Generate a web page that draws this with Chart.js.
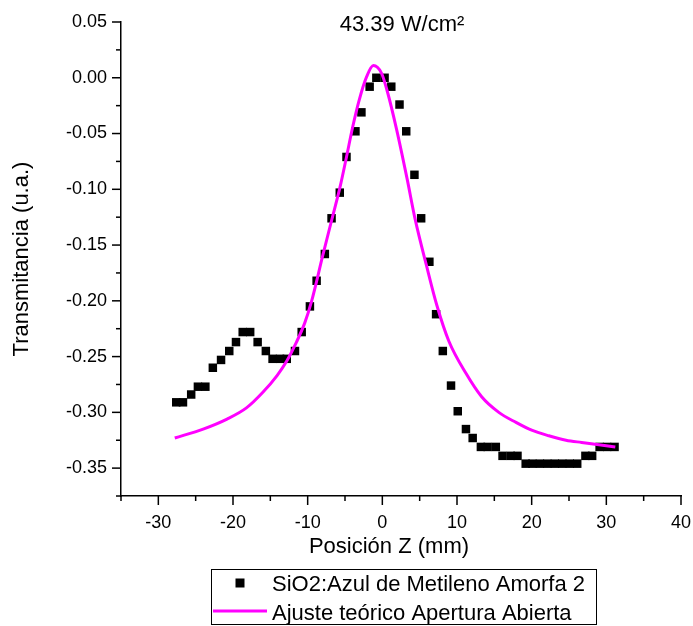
<!DOCTYPE html>
<html>
<head>
<meta charset="utf-8">
<script src="https://cdn.jsdelivr.net/npm/chart.js@4.4.1/dist/chart.umd.min.js"></script>
<style>
html,body{margin:0;padding:0;background:#fff;}
canvas{display:block;}
</style>
</head>
<body>
<canvas id="c" width="693" height="626"></canvas>
<script>
// ---- Data ----
const chartTitle = '43.39 W/cm\u00B2';
const xAxisTitle = 'Posición Z (mm)';
const yAxisTitle = 'Transmitancia (u.a.)';
const seriesNames = ['SiO2:Azul de Metileno Amorfa 2', 'Ajuste teórico Apertura Abierta'];

const zData = [-27.6, -26.7, -25.6, -24.7, -23.7, -22.7, -21.6, -20.5, -19.6, -18.7,
               -17.7, -16.7, -15.6, -14.7, -13.7, -12.8, -11.7, -10.8, -9.7, -8.8,
               -7.7, -6.8, -5.7, -4.8, -3.6, -2.8, -1.7, -0.8, 0.3, 1.2,
               2.3, 3.2, 4.3, 5.2, 6.3, 7.2, 8.1, 9.2, 10.1, 11.2,
               12.1, 13.2, 14.1, 15.2, 16.1, 17.2, 18.1, 19.2, 20.1, 21.1,
               22.1, 23.1, 24.1, 25.1, 26.1, 27.2, 28.1, 29.1, 30.1, 31.1];
const tData = [-0.291, -0.291, -0.284, -0.277, -0.277, -0.260, -0.253, -0.245, -0.237, -0.228,
               -0.228, -0.237, -0.245, -0.252, -0.252, -0.252, -0.245, -0.228, -0.205, -0.182,
               -0.158, -0.126, -0.103, -0.071, -0.048, -0.031, -0.008, 0.000, 0.000, -0.008,
               -0.024, -0.048, -0.087, -0.126, -0.165, -0.212, -0.245, -0.276, -0.299, -0.315,
               -0.323, -0.331, -0.331, -0.331, -0.339, -0.339, -0.339, -0.346, -0.346, -0.346,
               -0.346, -0.346, -0.346, -0.346, -0.346, -0.339, -0.339, -0.331, -0.331, -0.331];

const zFit = [-27.8, -24.0, -20.8, -18.2, -16.0, -14.1, -12.8, -11.5, -10.4, -9.5,
              -8.0, -6.8, -5.7, -4.8, -4.0, -3.1, -2.1, -1.2, -0.1, 0.7,
              1.9, 3.3, 4.4, 5.9, 7.3, 8.9, 11.2, 13.3, 15.6, 17.9,
              20.0, 22.3, 24.6, 26.7, 29.0, 31.2];
const tFit = [-0.323, -0.315, -0.306, -0.296, -0.282, -0.267, -0.254, -0.237, -0.220, -0.201,
              -0.160, -0.128, -0.099, -0.071, -0.045, -0.020, 0.001, 0.011, 0.004, -0.013,
              -0.046, -0.090, -0.127, -0.168, -0.204, -0.236, -0.265, -0.286, -0.300, -0.309,
              -0.316, -0.321, -0.325, -0.327, -0.329, -0.331];

const xTickValues = [-30, -20, -10, 0, 10, 20, 30, 40];
const xMinorTickValues = [-35, -25, -15, -5, 5, 15, 25, 35];
const yTickValues = [0.05, 0.00, -0.05, -0.10, -0.15, -0.20, -0.25, -0.30, -0.35];
const yMinorTickValues = [0.025, -0.025, -0.075, -0.125, -0.175, -0.225, -0.275, -0.325, -0.375];

// ---- Styles ----
const FONT = "'Liberation Sans', Arial, sans-serif";
const MAGENTA = '#ff00ff';

const decorations = {
  id: 'decorations',
  afterDraw(chart) {
    const ctx = chart.ctx;
    const xs = chart.scales.x, ys = chart.scales.y;
    const ax = ys.right, ay = xs.top;
    ctx.save();
    ctx.strokeStyle = '#000';
    ctx.lineWidth = 1.5;
    const seg = (x1, y1, x2, y2) => { ctx.beginPath(); ctx.moveTo(x1, y1); ctx.lineTo(x2, y2); ctx.stroke(); };
    yTickValues.forEach(v => { const p = ys.getPixelForValue(v); seg(ax - 9, p, ax, p); });
    yMinorTickValues.forEach(v => { const p = ys.getPixelForValue(v); seg(ax - 5, p, ax, p); });
    xTickValues.forEach(v => { const p = xs.getPixelForValue(v); seg(p, ay, p, ay + 9); });
    xMinorTickValues.forEach(v => { const p = xs.getPixelForValue(v); seg(p, ay, p, ay + 5); });

    ctx.fillStyle = '#000';
    ctx.font = '22px ' + FONT;
    ctx.textAlign = 'center';
    ctx.textBaseline = 'middle';
    // Title
    ctx.fillText(chartTitle, 402, 25);
    // X axis title
    ctx.fillText(xAxisTitle, 389, 547);

    // Legend
    ctx.lineWidth = 1;
    ctx.strokeRect(211.5, 569.5, 385, 55);
    const ds = chart.data.datasets;
    ctx.fillRect(240 - 4.5, 583 - 4.5, 9, 9);
    ctx.strokeStyle = MAGENTA;
    ctx.lineWidth = 3;
    seg(213, 611, 267, 611);
    ctx.textAlign = 'left';
    ctx.fillText(ds[0].label, 272, 585);
    ctx.fillText(ds[1].label, 272, 614);
    ctx.restore();
  }
};

new Chart(document.getElementById('c'), {
  type: 'scatter',
  data: {
    datasets: [
      {
        label: seriesNames[0],
        data: zData.map((z, i) => ({x: z, y: tData[i]})),
        pointStyle: 'rect',
        pointRadius: 6,
        pointBorderWidth: 0,
        backgroundColor: '#000',
        borderColor: '#000',
        order: 1
      },
      {
        label: seriesNames[1],
        data: zFit.map((z, i) => ({x: z, y: tFit[i]})),
        showLine: true,
        pointRadius: 0,
        borderColor: MAGENTA,
        backgroundColor: MAGENTA,
        borderWidth: 3,
        cubicInterpolationMode: 'monotone',
        order: 0
      }
    ]
  },
  options: {
    responsive: false,
    devicePixelRatio: 1,
    animation: false,
    layout: { padding: { left: 0, right: 12, top: 22, bottom: 60 } },
    plugins: { legend: { display: false }, tooltip: { enabled: false }, title: { display: false } },
    scales: {
      x: {
        type: 'linear',
        min: -35, max: 40,
        afterBuildTicks: s => { s.ticks = xTickValues.map(v => ({value: v})); },
        afterFit: s => { s.height = 70; s.paddingLeft = 0; s.paddingRight = 0; },
        grid: { display: false, drawTicks: false },
        border: { display: true, color: '#000', width: 1.5 },
        ticks: { color: '#000', font: { family: FONT, size: 18 }, padding: 16, maxRotation: 0,
                 callback: v => String(v) },
        title: { display: false, text: xAxisTitle }
      },
      y: {
        type: 'linear',
        min: -0.375, max: 0.05,
        afterBuildTicks: s => { s.ticks = yTickValues.map(v => ({value: v})); },
        afterFit: s => { s.width = 121; s.paddingTop = 0; s.paddingBottom = 0; },
        grid: { display: false, drawTicks: false },
        border: { display: true, color: '#000', width: 1.5 },
        ticks: { color: '#000', font: { family: FONT, size: 18 }, padding: 14,
                 callback: v => Number(v).toFixed(2) },
        title: { display: true, text: yAxisTitle, color: '#000', font: { family: FONT, size: 22 },
                 padding: { top: 9, bottom: 0 } }
      }
    }
  },
  plugins: [decorations]
});
</script>
</body>
</html>
